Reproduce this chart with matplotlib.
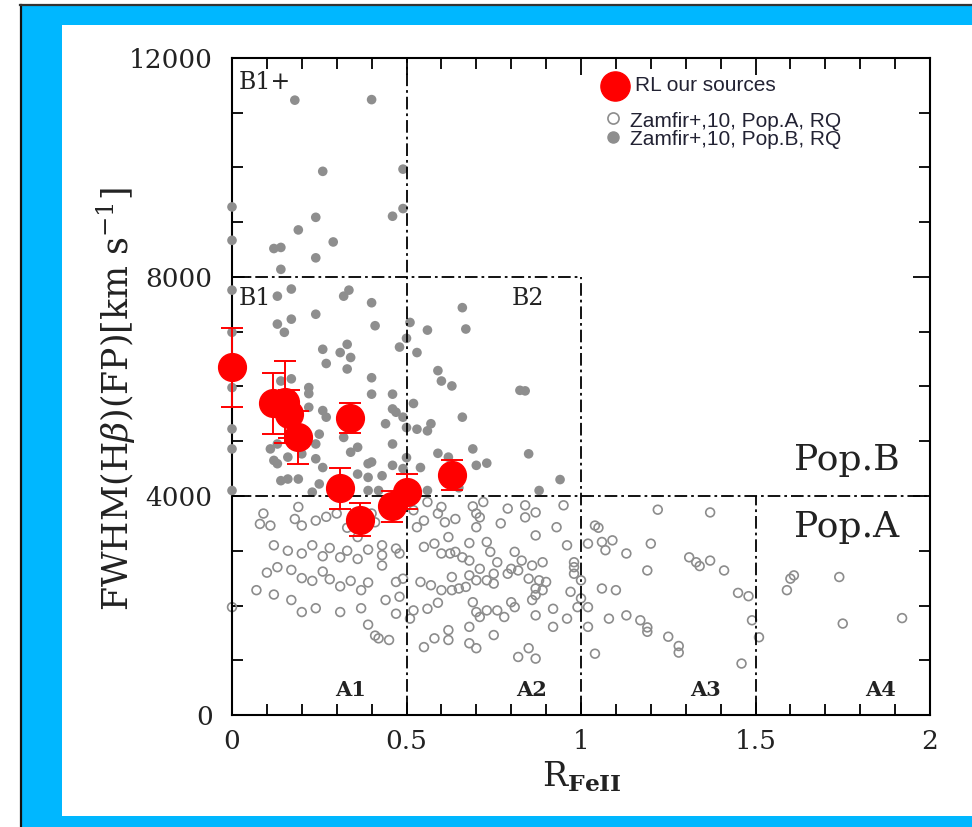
import matplotlib
matplotlib.use("Agg")
import matplotlib.pyplot as plt
from matplotlib.lines import Line2D
from matplotlib.patches import Rectangle
from matplotlib.ticker import MultipleLocator

# ---------------------------------------------------------------- data
# R_FeII and FWHM(Hbeta) [km/s] for the radio-loud sources, with errors
rl_x = [0.00, 0.117, 0.152, 0.162, 0.19, 0.338, 0.31, 0.367, 0.458, 0.501, 0.63]
rl_y = [6350, 5690, 5720, 5500, 5070, 5430, 4140, 3570, 3810, 4080, 4390]
rl_err = [720, 560, 750, 440, 490, 275, 380, 300, 290, 320, 275]

# Zamfir et al. (2010) radio-quiet sample, Population B (filled)
popb_points = [
    (0.18, 11230), (0.40, 11240), (0.26, 9930), (0.49, 9970), (0.00, 9280),
    (0.24, 9090), (0.46, 9110), (0.49, 9250), (0.19, 8860), (0.00, 8670),
    (0.12, 8520), (0.14, 8540), (0.29, 8640), (0.24, 8350), (0.14, 8140),
    (0.17, 7780), (0.335, 7760), (0.00, 7760),
    (0.13, 7650), (0.32, 7650), (0.40, 7530), (0.24, 7320), (0.13, 7140),
    (0.17, 7230), (0.15, 6990), (0.00, 6990), (0.41, 7110), (0.51, 7170),
    (0.56, 7030), (0.66, 7440), (0.67, 7050),
    (0.33, 6770), (0.31, 6620), (0.34, 6530), (0.26, 6680), (0.27, 6420),
    (0.33, 6320), (0.48, 6720), (0.50, 6880), (0.53, 6620), (0.40, 6160),
    (0.40, 5860), (0.22, 5980), (0.22, 5870), (0.17, 6140), (0.14, 6100),
    (0.00, 5980),
    (0.46, 5860), (0.46, 5590), (0.47, 5530), (0.59, 6290), (0.60, 6100),
    (0.63, 6010), (0.825, 5930), (0.84, 5920), (0.22, 5620), (0.26, 5560),
    (0.27, 5440), (0.49, 5440), (0.50, 5250), (0.53, 5220), (0.57, 5320),
    (0.66, 5440), (0.44, 5320), (0.00, 5225),
    (0.25, 5130), (0.24, 4950), (0.32, 5070), (0.46, 4950), (0.36, 4890),
    (0.34, 4800), (0.00, 4860), (0.11, 4860), (0.13, 4950), (0.12, 4650),
    (0.13, 4590), (0.16, 4710), (0.20, 4770), (0.14, 4280), (0.16, 4310),
    (0.19, 4310), (0.24, 4680), (0.26, 4520), (0.39, 4590), (0.40, 4620),
    (0.36, 4400), (0.39, 4340), (0.43, 4370), (0.46, 4560), (0.54, 4520),
    (0.59, 4780), (0.62, 4710), (0.69, 4860), (0.70, 4560), (0.73, 4600),
    (0.25, 4220), (0.23, 4070), (0.39, 4100), (0.42, 4100), (0.56, 4100),
    (0.00, 4100),
    (0.52, 5690), (0.56, 5190), (0.85, 4770), (0.50, 4700), (0.49, 4500),
    (0.94, 4300), (0.88, 4100), (0.65, 4150),
]

# Zamfir et al. (2010) radio-quiet sample, Population A (open)
popa_points = [
    (0.56, 3890), (0.60, 3800), (0.69, 3810), (0.72, 3890), (0.79, 3770),
    (0.84, 3830), (0.87, 3700), (0.95, 3830), (0.55, 3550), (0.61, 3520),
    (0.64, 3580), (0.71, 3610), (0.70, 3430), (0.77, 3500), (0.84, 3610),
    (0.93, 3430), (1.04, 3460), (0.53, 3430), (0.87, 3280), (0.62, 3250),
    (0.68, 3140), (0.73, 3160), (0.43, 3100), (0.55, 3070), (0.58, 3130),
    (0.60, 2950), (0.625, 2950), (0.64, 2980), (0.66, 2880), (0.68, 2820),
    (0.74, 2980), (0.81, 2980), (0.83, 2820), (0.96, 3100), (1.02, 3130),
    (1.06, 3160), (1.09, 3190), (1.07, 3010), (1.13, 2950), (0.47, 3040),
    (0.48, 2950), (0.43, 2920), (0.76, 2790), (0.80, 2670), (0.89, 2790),
    (0.98, 2790), (0.98, 2700), (0.86, 2730), (0.82, 2640), (0.71, 2670),
    (0.63, 2520), (0.68, 2550), (0.43, 2730), (0.75, 2580), (0.79, 2580),
    (0.85, 2490), (0.88, 2460), (0.90, 2430), (0.98, 2580), (0.47, 2430),
    (0.49, 2490), (0.54, 2430), (0.57, 2370), (0.60, 2280), (0.65, 2310),
    (0.67, 2340), (0.70, 2460), (0.73, 2460), (0.75, 2400), (0.63, 2280),
    (0.87, 2310), (0.89, 2280), (0.87, 2190), (0.86, 2100), (0.97, 2250),
    (1.00, 2130), (1.06, 2310), (1.10, 2280), (0.48, 2160), (0.44, 2100),
    (1.02, 1970), (0.69, 2060), (0.80, 2060), (0.92, 1940), (0.47, 1850),
    (0.52, 1910), (0.56, 1940), (0.59, 2050), (0.70, 1880), (0.71, 1790),
    (0.73, 1910), (0.76, 1910), (0.78, 1790), (0.81, 1970), (0.87, 1820),
    (0.96, 1760), (0.99, 1970), (1.08, 1760), (1.13, 1820), (1.02, 1610),
    (0.51, 1760), (0.68, 1610), (0.75, 1460), (0.92, 1610), (0.55, 1240),
    (0.58, 1400), (0.62, 1550), (0.62, 1370), (0.68, 1310), (0.70, 1220),
    (0.82, 1060), (0.85, 1220), (0.87, 1030), (1.04, 1120), (0.42, 1400),
    (1.22, 3750), (1.37, 3700), (1.20, 3130), (1.31, 2880), (1.33, 2790),
    (1.34, 2720), (1.37, 2820), (1.41, 2640), (1.19, 2640), (1.00, 2460),
    (1.45, 2230), (1.48, 2170), (1.17, 1730), (1.19, 1600), (1.19, 1520),
    (1.25, 1430), (1.28, 1260), (1.28, 1140), (1.46, 940), (1.49, 1730),
    (1.51, 1420), (1.59, 2280), (1.60, 2490), (1.61, 2550), (1.74, 2520),
    (1.75, 1670), (1.92, 1770), (1.05, 3420),
    (0.09, 3680), (0.08, 3490), (0.11, 3460), (0.19, 3800), (0.18, 3580),
    (0.20, 3460), (0.24, 3550), (0.30, 3680), (0.40, 3680), (0.41, 3520),
    (0.39, 3460), (0.52, 3740), (0.59, 3680), (0.70, 3680),
    (0.27, 3620), (0.33, 3420), (0.36, 3250), (0.12, 3100), (0.16, 3000),
    (0.20, 2950), (0.23, 3100), (0.26, 2900), (0.28, 3050), (0.31, 2880),
    (0.33, 3000), (0.36, 2850), (0.39, 3020),
    (0.10, 2600), (0.13, 2700), (0.17, 2650), (0.20, 2500), (0.23, 2450),
    (0.26, 2620), (0.28, 2480), (0.31, 2350), (0.34, 2450), (0.37, 2280),
    (0.39, 2420),
    (0.07, 2280), (0.12, 2200), (0.17, 2100), (0.20, 1880), (0.24, 1950),
    (0.31, 1880), (0.37, 1950), (0.39, 1650), (0.41, 1450), (0.45, 1370),
    (0.00, 1970),
]

# region boundaries and labels
region_labels = ["B1+", "B1", "B2", "A1", "A2", "A3", "A4"]
region_label_pos = [(0.02, 11560), (0.02, 7600), (0.80, 7600),
                    (0.34, 460), (0.857, 460), (1.358, 460), (1.857, 460)]
x_ticks = [0, 0.5, 1, 1.5, 2]
x_ticklabels = ["0", "0.5", "1", "1.5", "2"]
y_ticks = [0, 4000, 8000, 12000]
y_ticklabels = ["0", "4000", "8000", "12000"]

popb_x, popb_y = zip(*popb_points)
popa_x, popa_y = zip(*popa_points)

# ---------------------------------------------------------------- figure
W, H = 972, 827
plt.rcParams["mathtext.fontset"] = "dejavuserif"
fig = plt.figure(figsize=(W / 100, H / 100), dpi=100)
fig.patch.set_facecolor("white")

blue = "#00b7ff"
fig.patches.extend([
    Rectangle((21 / W, 0), 41 / W, (H - 6) / H, transform=fig.transFigure,
              facecolor=blue, edgecolor="none", zorder=0),
    Rectangle((21 / W, (H - 25) / H), 1 - 21 / W, 19 / H,
              transform=fig.transFigure, facecolor=blue, edgecolor="none",
              zorder=0),
    Rectangle((21 / W, 0), 1 - 21 / W, 11 / H, transform=fig.transFigure,
              facecolor=blue, edgecolor="none", zorder=0),
])
fig.lines.extend([
    Line2D([20.5 / W, 20.5 / W], [0, (H - 5) / H], transform=fig.transFigure,
           color="#111111", lw=1.6),
    Line2D([20 / W, 1], [(H - 5) / H, (H - 5) / H], transform=fig.transFigure,
           color="#333333", lw=1.6),
])

ax = fig.add_axes([232 / W, (H - 715) / H, 698 / W, 657 / H])
ax.set_xlim(0, 2)
ax.set_ylim(0, 12000)

serif = "DejaVu Serif"

# points
ax.scatter(popa_x, popa_y, s=40, facecolors="none", edgecolors="#8c8c8c",
           linewidths=1.2, zorder=2, clip_on=False)
ax.scatter(popb_x, popb_y, s=48, color="#8e8e8e", edgecolors="none",
           zorder=3, clip_on=False)
ax.errorbar(rl_x, rl_y, yerr=rl_err, fmt="o", ms=20, color="red",
            mec="red", ecolor="red", elinewidth=1.4, capsize=8,
            capthick=1.4, zorder=5, clip_on=False)

# region dividers
dd = (0, (7, 2.2, 1.5, 2.2))
kw = dict(color="black", lw=1.3, ls=dd, zorder=4)
ax.plot([0.5, 0.5], [0, 12000], **kw)
ax.plot([1.0, 1.0], [0, 8000], **kw)
ax.plot([1.5, 1.5], [0, 4000], **kw)
ax.plot([0, 2], [4000, 4000], **kw)
ax.plot([0, 1], [8000, 8000], **kw)

for lab, (lx, ly) in zip(region_labels[:3], region_label_pos[:3]):
    ax.text(lx, ly, lab, family=serif, fontsize=17, ha="left", va="center",
            color="#222222")
for lab, (lx, ly) in zip(region_labels[3:], region_label_pos[3:]):
    ax.text(lx, ly, lab, family=serif, fontsize=15, fontweight="bold",
            ha="center", va="center", color="#222222")
ax.text(1.762, 4650, "Pop.B", family=serif, fontsize=26, ha="center",
        va="center", color="#222222")
ax.text(1.762, 3440, "Pop.A", family=serif, fontsize=26, ha="center",
        va="center", color="#222222")

# legend drawn in axes coordinates
sans = "Liberation Sans"
ax.plot([0.5487], [0.9574], transform=ax.transAxes, marker="o", ms=21,
        color="red", ls="none", clip_on=False, zorder=6)
ax.text(0.5775, 0.9574, "RL our sources", transform=ax.transAxes,
        family=sans, fontsize=15, va="center", ha="left", color="#222233")
ax.plot([0.5458], [0.9087], transform=ax.transAxes, marker="o", ms=8,
        mfc="white", mec="#8c8c8c", mew=1.2, ls="none", zorder=6)
ax.text(0.5702, 0.9041, "Zamfir+,10, Pop.A, RQ", transform=ax.transAxes,
        family=sans, fontsize=15, va="center", ha="left", color="#222233")
ax.plot([0.5458], [0.8798], transform=ax.transAxes, marker="o", ms=8,
        color="#8e8e8e", ls="none", zorder=6)
ax.text(0.5702, 0.8752, "Zamfir+,10, Pop.B, RQ", transform=ax.transAxes,
        family=sans, fontsize=15, va="center", ha="left", color="#222233")

# axes styling
for sp in ax.spines.values():
    sp.set_linewidth(1.5)
ax.set_xticks(x_ticks)
ax.set_xticklabels(x_ticklabels)
ax.set_yticks(y_ticks)
ax.set_yticklabels(y_ticklabels)
ax.xaxis.set_minor_locator(MultipleLocator(0.1))
ax.yaxis.set_minor_locator(MultipleLocator(1000))
ax.tick_params(which="both", direction="in", top=True, right=True,
               width=1.3, labelsize=19)
ax.tick_params(axis="y", pad=14)
ax.tick_params(axis="x", pad=10)
ax.tick_params(which="major", length=12)
ax.tick_params(which="minor", length=8)
for t in ax.get_xticklabels() + ax.get_yticklabels():
    t.set_family(serif)
    t.set_color("#222222")

ax.set_ylabel(r"FWHM(H$\beta$)(FP)[km s$^{-1}$]", family=serif,
              fontsize=25, va="center", color="#222222")
ax.yaxis.set_label_coords(-0.165, 0.481)
ax.set_xlabel(r"R$_{\mathbf{FeII}}$", family=serif, fontsize=24,
              va="top", color="#222222")
ax.xaxis.set_label_coords(0.501, -0.068)

fig.savefig("out.png", dpi=100, facecolor="white")
